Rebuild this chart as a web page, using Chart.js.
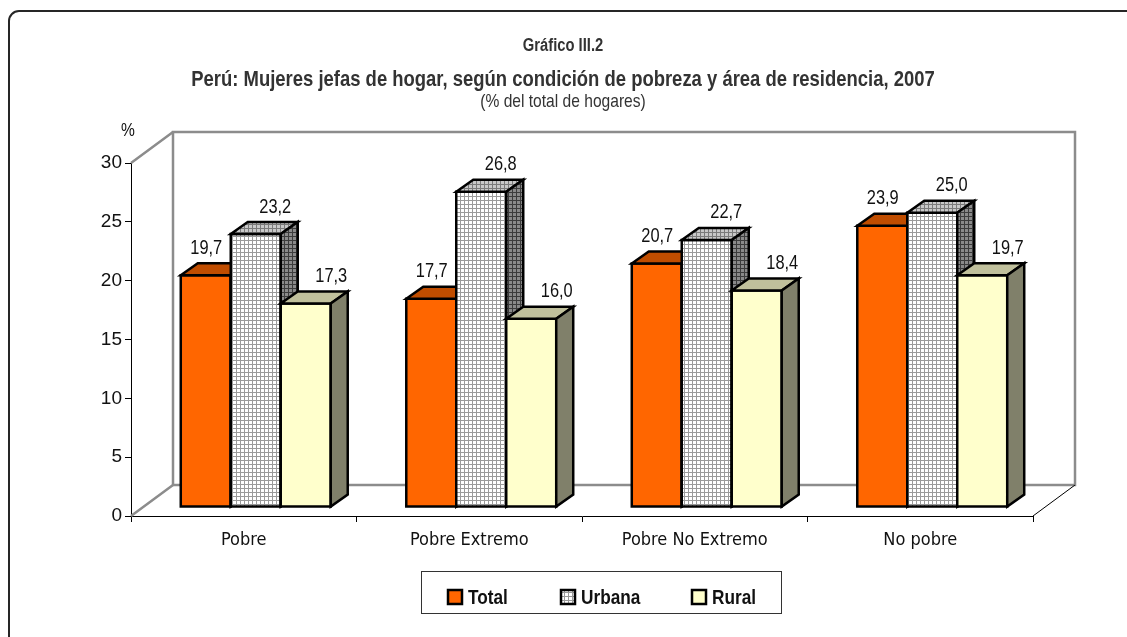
<!DOCTYPE html>
<html>
<head>
<meta charset="utf-8">
<script src="https://cdn.jsdelivr.net/npm/chart.js@4.4.1/dist/chart.umd.min.js"></script>
<style>
  html, body { margin: 0; padding: 0; background: #fff; overflow: hidden; }
  #wrap { position: relative; width: 1127px; height: 637px; overflow: hidden; }
  #frame { position: absolute; left: 8px; top: 10px; width: 1220px; height: 700px;
           border: 2px solid #262626; border-radius: 11px; box-sizing: border-box; }
  #grafico { position: absolute; left: 0; top: 0; }
</style>
</head>
<body>
<div id="wrap">
  <div id="frame"></div>
  <canvas id="grafico" width="1127" height="637"></canvas>
</div>
<script>
/* Gráfico III.2 – barras 3D estilo Excel: Chart.js calcula escalas/posiciones,
   el plugin bar3d dibuja las caras (frente, tapa, lateral) a partir de los elementos. */

const categorias = ['Pobre', 'Pobre Extremo', 'Pobre No Extremo', 'No pobre'];
const serieTotal  = [19.7, 17.7, 20.7, 23.9];
const serieUrbana = [23.2, 26.8, 22.7, 25.0];
const serieRural  = [17.3, 16.0, 18.4, 19.7];
const yTicks = [0, 5, 10, 15, 20, 25, 30];

const FONT_EJES = '"DejaVu Sans Condensed", "Liberation Sans", sans-serif';
const FONT = '"Liberation Sans", Arial, sans-serif';
const ANGOSTO = 0.82;                // compresión horizontal (imita Arial Narrow)
const PARED = { dx: 42, dy: -31 };   // profundidad del piso / pared de fondo
const OFF   = { dx: 12, dy: -9 };    // cara frontal de las barras dentro del piso
const PROF  = { dx: 17, dy: -12 };   // profundidad de cada barra
const LBL_DX = [-8, 11, 17];         // corrimiento de etiquetas por serie

function fmt(v) { return v.toFixed(1).replace('.', ','); }

function texto(ctx, txt, x, y) {
  ctx.save();
  ctx.translate(x, y);
  ctx.scale(ANGOSTO, 1);
  ctx.fillText(txt, 0, 0);
  ctx.restore();
}

function trama(bg, line, size) {
  const c = document.createElement('canvas');
  c.width = size; c.height = size;
  const g = c.getContext('2d');
  g.fillStyle = bg; g.fillRect(0, 0, size, size);
  g.fillStyle = line;
  g.fillRect(0, 0, size, 1);
  g.fillRect(0, 0, 1, size);
  return g.createPattern(c, 'repeat');
}

const ctx0 = document.getElementById('grafico').getContext('2d');
const caras = [
  { frente: '#ff6600', tapa: '#c04d00', lado: '#803300' },
  { frente: trama('#ffffff', '#9a9a9a', 4), tapa: trama('#c8c8c8', '#7a7a7a', 4), lado: trama('#8a8a8a', '#3c3c3c', 4) },
  { frente: '#ffffcc', tapa: '#c0c09c', lado: '#80806a' }
];

function poly(ctx, pts, fill) {
  ctx.beginPath();
  ctx.moveTo(pts[0][0], pts[0][1]);
  for (let k = 1; k < pts.length; k++) ctx.lineTo(pts[k][0], pts[k][1]);
  ctx.closePath();
  ctx.fillStyle = fill;
  ctx.fill();
  ctx.stroke();
}

const bar3d = {
  id: 'bar3d',
  beforeDatasetsDraw(chart) {
    const { ctx, chartArea: a } = chart;
    ctx.save();
    // pared de fondo y piso
    ctx.strokeStyle = '#8c8c8c';
    ctx.lineWidth = 2.5;
    ctx.strokeRect(a.left + PARED.dx, a.top + PARED.dy, a.right - a.left, a.bottom - a.top);
    ctx.beginPath();
    ctx.moveTo(a.left, a.top); ctx.lineTo(a.left + PARED.dx, a.top + PARED.dy);
    ctx.moveTo(a.left, a.bottom); ctx.lineTo(a.left + PARED.dx, a.bottom + PARED.dy);
    ctx.stroke();
    ctx.strokeStyle = '#000';
    ctx.lineWidth = 1;
    ctx.beginPath();
    ctx.moveTo(a.right, a.bottom); ctx.lineTo(a.right + PARED.dx, a.bottom + PARED.dy);
    ctx.stroke();

    // barras: por categoría, de izquierda a derecha, para que el solapamiento sea correcto
    ctx.strokeStyle = '#000';
    ctx.lineWidth = 2.5;
    ctx.lineJoin = 'miter';
    const n = chart.data.labels.length;
    for (let j = 0; j < n; j++) {
      chart.data.datasets.forEach((ds, i) => {
        const el = chart.getDatasetMeta(i).data[j];
        const l = el.x - el.width / 2 + OFF.dx, r = el.x + el.width / 2 + OFF.dx;
        const t = el.y + OFF.dy, b = el.base + OFF.dy;
        const c = caras[i];
        poly(ctx, [[l, t], [r, t], [r, b], [l, b]], c.frente);
        poly(ctx, [[l, t], [l + PROF.dx, t + PROF.dy], [r + PROF.dx, t + PROF.dy], [r, t]], c.tapa);
        poly(ctx, [[r, t], [r + PROF.dx, t + PROF.dy], [r + PROF.dx, b + PROF.dy], [r, b]], c.lado);
      });
    }
    ctx.restore();
    return false;
  },
  afterDraw(chart) {
    const { ctx } = chart;
    ctx.save();
    // etiquetas de valores
    ctx.fillStyle = '#111';
    ctx.font = '20px ' + FONT;
    ctx.textAlign = 'center';
    ctx.textBaseline = 'middle';
    chart.data.datasets.forEach((ds, i) => {
      chart.getDatasetMeta(i).data.forEach((el, j) => {
        const x = el.x + OFF.dx + PROF.dx / 2 + LBL_DX[i];
        const y = el.y + OFF.dy + PROF.dy - 15;
        texto(ctx, fmt(ds.data[j]), x, y);
      });
    });

    // títulos
    const cx = 563;
    ctx.fillStyle = '#333';
    ctx.font = 'bold 18px ' + FONT;
    texto(ctx, 'Gráfico III.2', cx, 46);
    ctx.font = 'bold 22.5px ' + FONT;
    texto(ctx, 'Perú: Mujeres jefas de hogar, según condición de pobreza y área de residencia, 2007', cx, 80);
    ctx.font = '19px ' + FONT;
    texto(ctx, '(% del total de hogares)', cx, 102);
    ctx.fillStyle = '#111';
    ctx.font = '19px ' + FONT;
    texto(ctx, '%', 128, 131);

    // leyenda
    ctx.strokeStyle = '#333';
    ctx.lineWidth = 1;
    ctx.strokeRect(421.5, 571.5, 360, 42);
    const posX = [448, 561, 692];
    ctx.font = 'bold 21px ' + FONT;
    ctx.textAlign = 'left';
    chart.data.datasets.forEach((ds, i) => {
      ctx.fillStyle = caras[i].frente;
      ctx.fillRect(posX[i], 590, 14, 14);
      ctx.strokeStyle = '#000';
      ctx.lineWidth = 2.5;
      ctx.strokeRect(posX[i], 590, 14, 14);
      ctx.fillStyle = '#111';
      texto(ctx, ds.label, posX[i] + 20, 598);
    });
    ctx.restore();
  }
};

new Chart(ctx0, {
  type: 'bar',
  data: {
    labels: categorias,
    datasets: [
      { label: 'Total',  data: serieTotal,  backgroundColor: caras[0].frente },
      { label: 'Urbana', data: serieUrbana, backgroundColor: caras[1].frente },
      { label: 'Rural',  data: serieRural,  backgroundColor: caras[2].frente }
    ]
  },
  options: {
    responsive: false,
    animation: false,
    events: [],
    categoryPercentage: 0.665,
    barPercentage: 1,
    layout: { padding: { left: 0, top: 163, right: 94, bottom: 0 } },
    plugins: { legend: { display: false }, tooltip: { enabled: false } },
    scales: {
      x: {
        afterFit: s => { s.height = 121; },
        grid: { offset: true, drawOnChartArea: false, color: '#000', tickLength: 6 },
        border: { color: '#000', width: 1 },
        ticks: { color: '#111', padding: 8, font: { family: FONT_EJES, size: 18 } }
      },
      y: {
        min: yTicks[0],
        max: yTicks[yTicks.length - 1],
        afterFit: s => { s.width = 131; },
        afterBuildTicks: s => { s.ticks = yTicks.map(v => ({ value: v })); },
        grid: { drawOnChartArea: false, color: '#000', tickLength: 6 },
        border: { color: '#000', width: 1 },
        ticks: { color: '#111', padding: 3, font: { family: FONT, size: 19 } }
      }
    }
  },
  plugins: [bar3d]
});
</script>
</body>
</html>
